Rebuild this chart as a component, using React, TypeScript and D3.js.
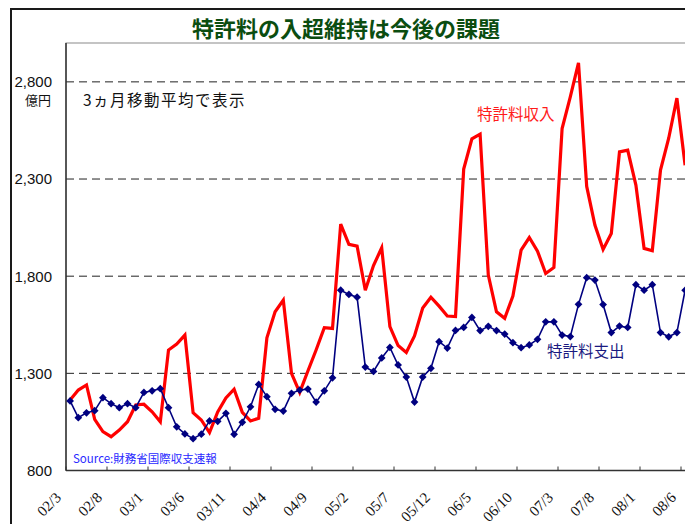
import React from 'react';
import * as d3 from 'd3';

// monthly categories (yy/m), 3-month moving average
const months = [
  '02/3', '02/4', '02/5', '02/6', '02/7', '02/8', '02/9', '02/10', '02/11', '02/12',
  '03/1', '03/2', '03/3', '03/4', '03/5', '03/6', '03/7', '03/8', '03/9', '03/10', '03/11', '03/12',
  '04/1', '04/2', '04/3', '04/4', '04/5', '04/6', '04/7', '04/8', '04/9', '04/10', '04/11', '04/12',
  '05/1', '05/2', '05/3', '05/4', '05/5', '05/6', '05/7', '05/8', '05/9', '05/10', '05/11', '05/12',
  '06/1', '06/2', '06/3', '06/4', '06/5', '06/6', '06/7', '06/8', '06/9', '06/10', '06/11', '06/12',
  '07/1', '07/2', '07/3', '07/4', '07/5', '07/6', '07/7', '07/8', '07/9', '07/10', '07/11', '07/12',
  '08/1', '08/2', '08/3', '08/4', '08/5', '08/6',
];

// 特許料収入 (億円)
const receipts = [
  1163, 1214, 1240, 1063, 1000, 974, 1008, 1051, 1137, 1141,
  1102, 1051, 1420, 1451, 1497, 1097, 1060, 995, 1101, 1173,
  1218, 1099, 1055, 1069, 1483, 1617, 1677, 1300, 1202, 1312,
  1420, 1535, 1531, 2068, 1964, 1955, 1728, 1855, 1946, 1540,
  1443, 1407, 1492, 1636, 1692, 1646, 1595, 1592, 2351, 2507,
  2531, 1806, 1617, 1583, 1698, 1934, 1999, 1929, 1814, 1845,
  2560, 2723, 2898, 2262, 2063, 1938, 2020, 2440, 2449, 2269,
  1943, 1931, 2346, 2510, 2716, 2371,
];

// 特許料支出 (億円)
const payments = [
  1158, 1072, 1097, 1108, 1175, 1144, 1123, 1144, 1123, 1202,
  1210, 1221, 1123, 1025, 988, 964, 987, 1055, 1053, 1094,
  986, 1048, 1128, 1243, 1180, 1115, 1106, 1197, 1214, 1219,
  1152, 1210, 1277, 1728, 1706, 1692, 1332, 1310, 1379, 1433,
  1343, 1281, 1152, 1281, 1326, 1463, 1430, 1521, 1536, 1588,
  1520, 1542, 1520, 1502, 1458, 1432, 1446, 1475, 1565, 1565,
  1497, 1489, 1655, 1792, 1780, 1654, 1510, 1543, 1536, 1756,
  1728, 1756, 1510, 1488, 1510, 1728,
];

const tickLabels = [
  '02/3', '02/8', '03/1', '03/6', '03/11', '04/4', '04/9', '05/2',
  '05/7', '05/12', '06/5', '06/10', '07/3', '07/8', '08/1', '08/6',
];
const yTicks = [800, 1300, 1800, 2300, 2800];

const W = 685;
const H = 524;
const plot = { left: 66, top: 43, bottom: 470.5, step: 8.2 };

export default function App() {
  const x = d3.scaleBand<string>()
    .domain(months)
    .range([plot.left, plot.left + months.length * plot.step])
    .padding(0);
  const cx = (m: string) => (x(m) ?? 0) + x.bandwidth() / 2;

  const y = d3.scaleLinear().domain([800, 3000]).range([plot.bottom, plot.top]);

  const line = d3.line<number>()
    .x((_, i) => cx(months[i]))
    .y(d => y(d));

  const diamond = d3.symbol(d3.symbolSquare, 30)();

  const sans = '"Liberation Sans", Arial, sans-serif';
  const jp = '"Noto Sans CJK JP", sans-serif';

  return (
    <svg
      width={W}
      height={H}
      style={{ position: 'absolute', left: 0, top: 0, display: 'block', background: '#fff' }}
    >
      {/* outer frame */}
      <rect x={11} y={9} width={W + 20} height={H + 20} fill="none" stroke="#1a1a1a" strokeWidth={2} />

      {/* title */}
      <text
        x={346}
        y={37}
        textAnchor="middle"
        fontFamily={jp}
        fontWeight={700}
        fontSize={22}
        fill="#0b4d10"
      >
        特許料の入超維持は今後の課題
      </text>

      {/* plot area border */}
      <rect
        x={plot.left}
        y={plot.top}
        width={W}
        height={plot.bottom - plot.top}
        fill="none"
        stroke="#8a8a8a"
        strokeWidth={1}
      />

      {/* gridlines */}
      {yTicks.slice(1).map(t => (
        <line
          key={'g' + t}
          x1={plot.left}
          x2={W}
          y1={y(t)}
          y2={y(t)}
          stroke="#222"
          strokeWidth={1}
          strokeDasharray="8 5"
        />
      ))}

      {/* axes */}
      <line x1={plot.left} x2={plot.left} y1={plot.top} y2={plot.bottom} stroke="#333" strokeWidth={1.5} />
      <line x1={plot.left} x2={W} y1={plot.bottom} y2={plot.bottom} stroke="#333" strokeWidth={1.5} />

      {/* y labels */}
      {yTicks.map(t => (
        <text
          key={'y' + t}
          x={52}
          y={y(t)}
          dy="0.36em"
          textAnchor="end"
          fontFamily={sans}
          fontSize={15}
          fill="#111"
        >
          {d3.format(',')(t)}
        </text>
      ))}
      <text x={38} y={105} textAnchor="middle" fontFamily={jp} fontSize={13} fill="#111">
        億円
      </text>

      {/* x ticks and labels */}
      {tickLabels.map(lab => {
        const bx = x(lab) ?? 0;
        return (
          <g key={'x' + lab}>
            <line x1={bx} x2={bx} y1={plot.bottom} y2={plot.bottom - 4} stroke="#333" strokeWidth={1} />
            <text
              transform={`translate(${cx(lab) - 8},${plot.bottom + 28}) rotate(-45)`}
              textAnchor="end"
              fontFamily='"Liberation Serif", "Times New Roman", serif'
              fontSize={15}
              fill="#111"
            >
              {lab}
            </text>
          </g>
        );
      })}

      {/* series */}
      <path d={line(receipts) ?? ''} fill="none" stroke="#ff0000" strokeWidth={3.2} strokeLinejoin="miter" />
      <path d={line(payments) ?? ''} fill="none" stroke="#000080" strokeWidth={1.6} />
      {payments.map((v, i) => (
        <path
          key={'p' + i}
          d={diamond ?? ''}
          transform={`translate(${cx(months[i])},${y(v)}) rotate(45)`}
          fill="#000080"
        />
      ))}

      {/* annotations */}
      <text x={83} y={106} fontFamily={jp} fontSize={15.5} letterSpacing={1.5} fill="#111">
        3ヵ月移動平均で表示
      </text>
      <text x={477} y={120} fontFamily={jp} fontSize={15.5} fill="#ff1a1a">
        特許料収入
      </text>
      <text x={547} y={357} fontFamily={jp} fontSize={15.5} fill="#1a1a80">
        特許料支出
      </text>
      <text x={73} y={463} fontFamily={jp} fontSize={11.5} fill="#2a2aff">
        Source:財務省国際収支速報
      </text>
    </svg>
  );
}
